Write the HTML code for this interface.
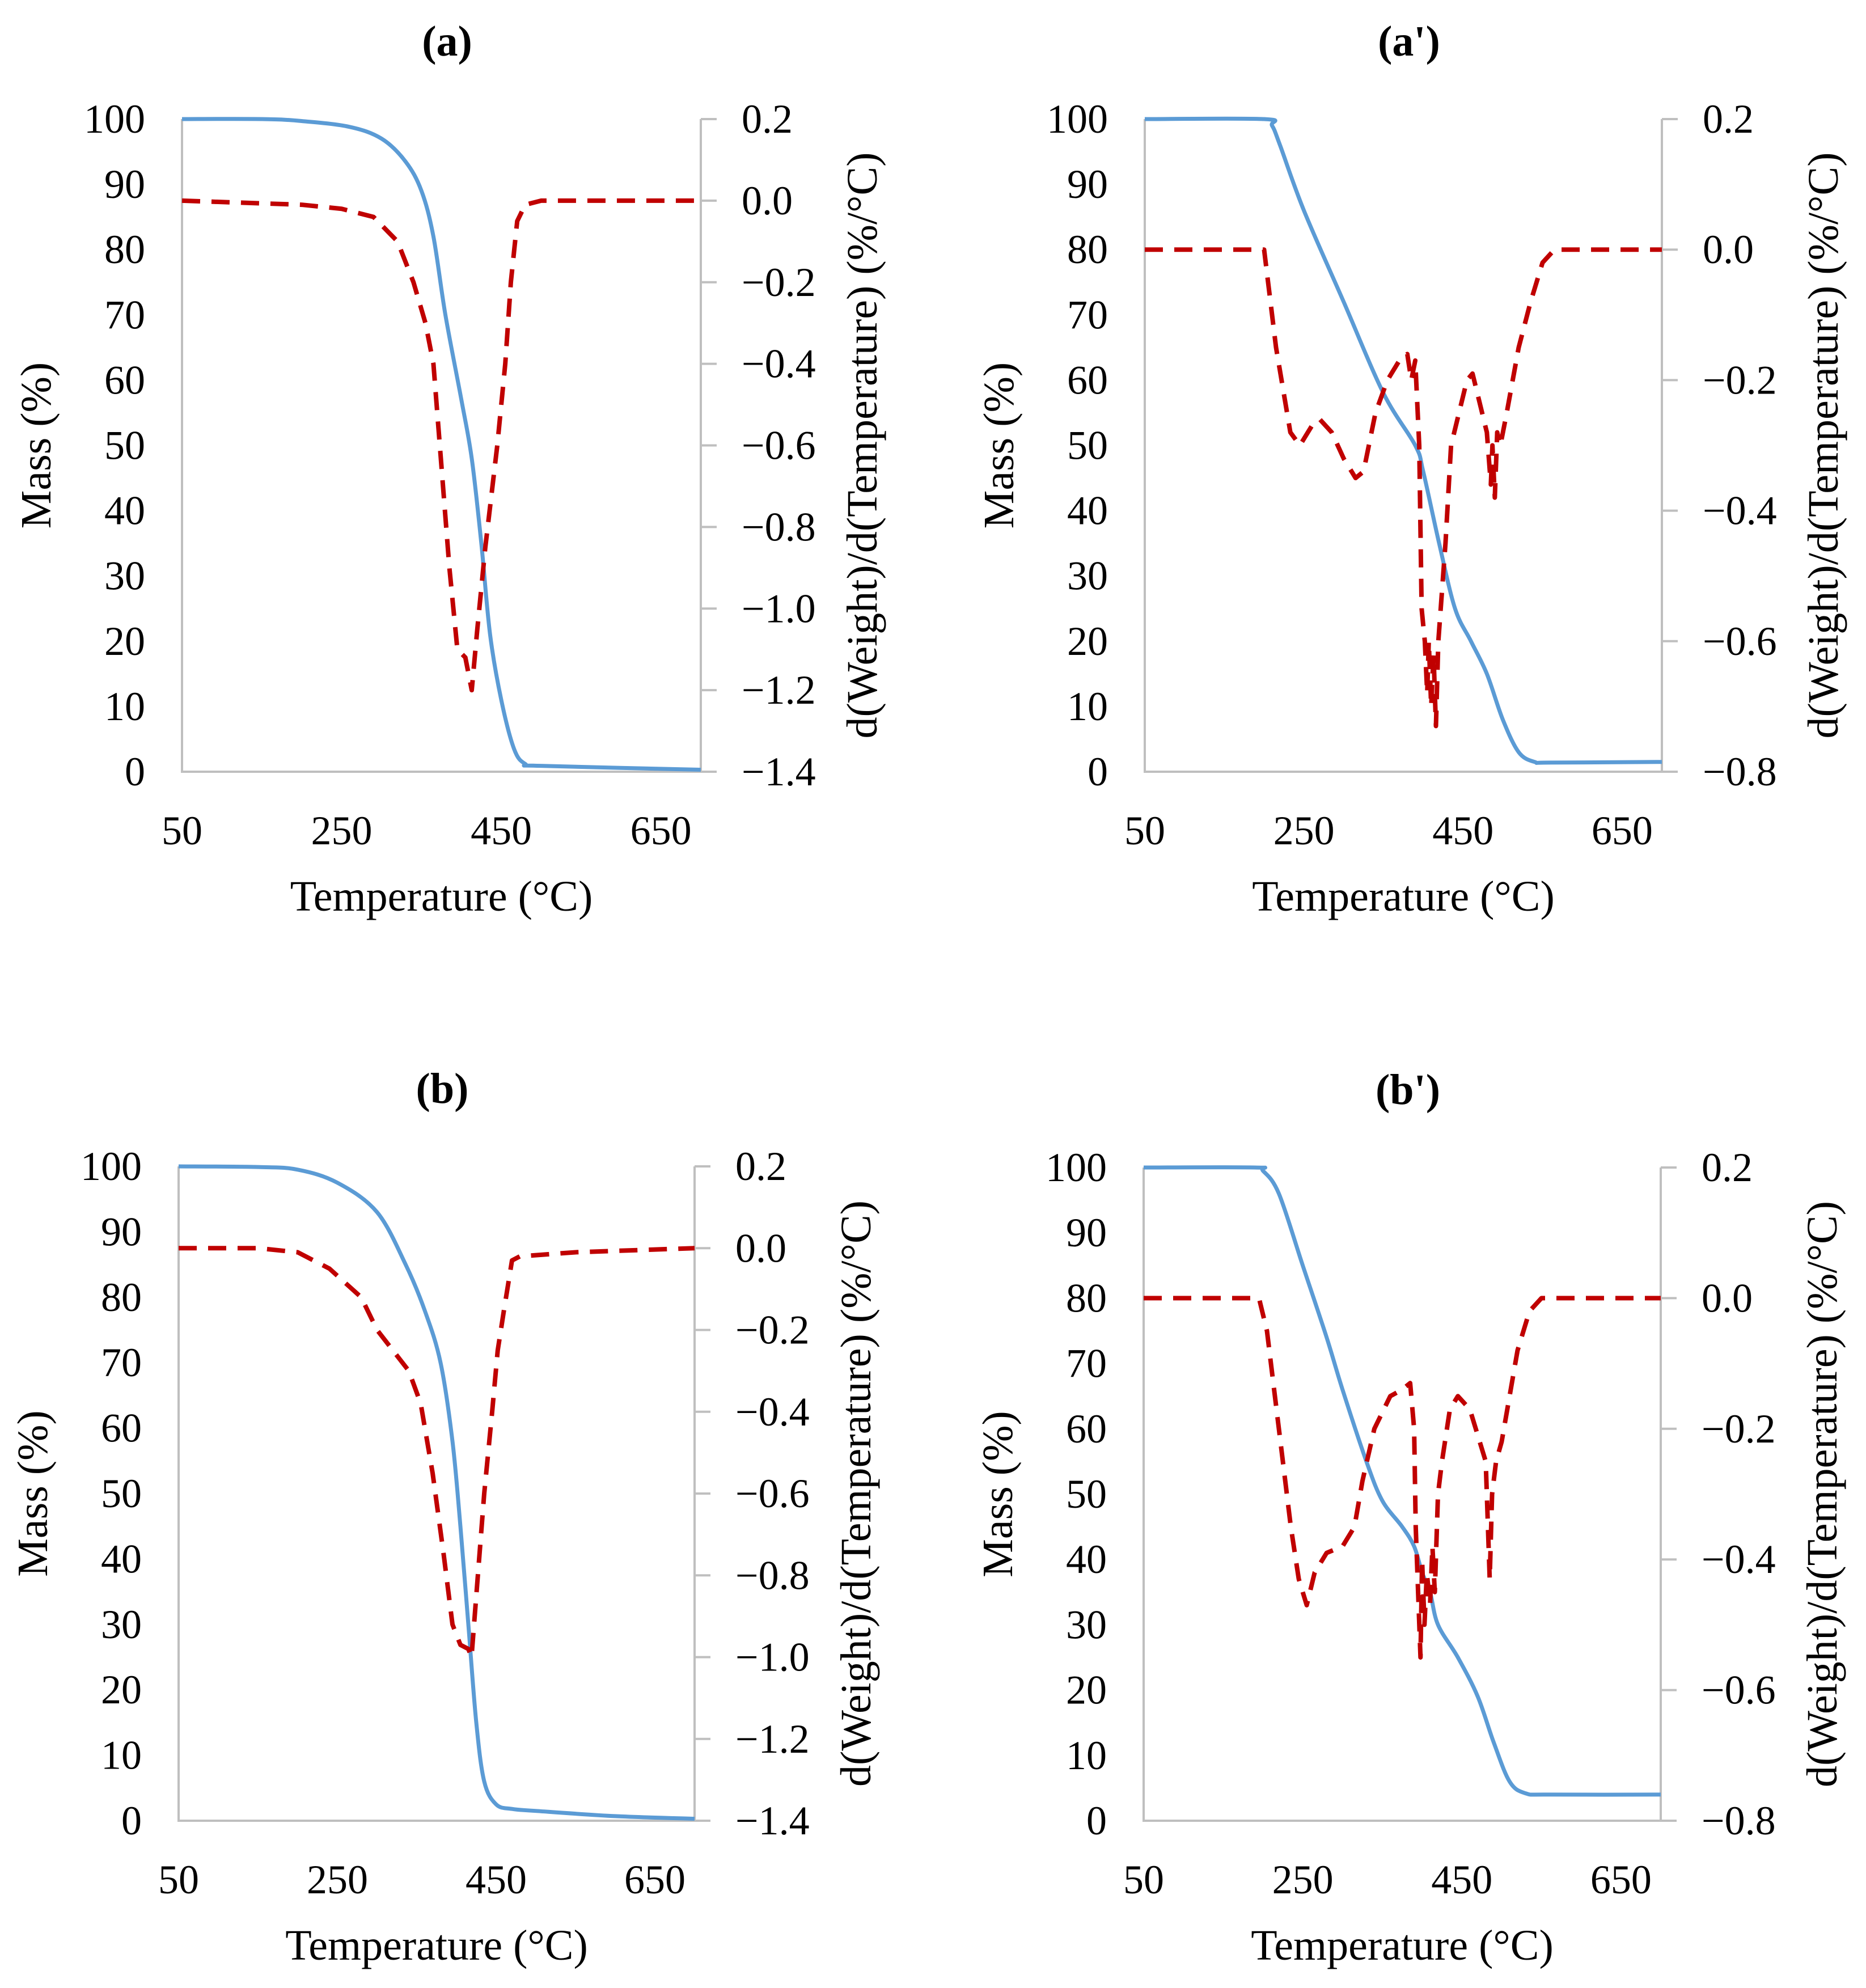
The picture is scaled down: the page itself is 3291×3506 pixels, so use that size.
<!DOCTYPE html>
<html><head><meta charset="utf-8"><style>
html,body{margin:0;padding:0;background:#fff;}
svg{display:block;font-family:"Liberation Serif","DejaVu Serif",serif;}
</style></head><body>
<svg id="fig" width="3291" height="3506" viewBox="0 0 3291 3506" xmlns="http://www.w3.org/2000/svg"></svg>
<script>
// ---- data ----
const massTicks=[0,10,20,30,40,50,60,70,80,90,100];
const tempTicks=[50,250,450,650];
const derivTicksA=[0.2,0,-0.2,-0.4,-0.6,-0.8,-1.0,-1.2,-1.4];
const derivTicksA2=[0.2,0,-0.2,-0.4,-0.6,-0.8];

const aMassT=[50,150,200,260,300,330,350,365,380,400,413,425,436,450,466,480,500,700];
const aMassV=[100,100,99.7,98.8,97,93.5,89,82,70,57,48,35,21,11,3.5,1.2,0.9,0.3];
const aDerT=[50,200,250,290,320,340,355,365,375,385,395,405,413,420,430,445,455,462,470,480,500,700];
const aDerV=[0,-0.01,-0.02,-0.04,-0.1,-0.2,-0.3,-0.4,-0.65,-0.9,-1.1,-1.12,-1.2,-1.05,-0.85,-0.6,-0.4,-0.2,-0.05,-0.01,0,0];

const a2MassT=[50,200,210,220,250,300,350,390,400,420,440,460,480,500,520,540,560,700];
const a2MassV=[100,100,99,96,86,72,58,50,46,35,25,20,15,8,3,1.5,1.4,1.5];
const a2DerT=[50,200,215,233,245,260,270,285,300,315,325,340,355,370,380,385,390,395,398,402,405,407,410,413,416,419,422,428,435,445,455,462,470,480,485,487,490,493,497,505,520,535,550,565,700];
const a2DerV=[0,0,-0.15,-0.28,-0.3,-0.27,-0.26,-0.28,-0.32,-0.35,-0.34,-0.25,-0.2,-0.17,-0.16,-0.2,-0.17,-0.3,-0.55,-0.6,-0.68,-0.6,-0.7,-0.62,-0.73,-0.6,-0.55,-0.45,-0.3,-0.25,-0.2,-0.19,-0.23,-0.28,-0.36,-0.3,-0.38,-0.28,-0.3,-0.25,-0.15,-0.08,-0.02,0,0];

const bMassT=[50,150,200,250,300,336,360,380,395,405,415,425,435,450,470,500,600,700];
const bMassV=[100,99.9,99.5,97.5,93,85,78,70,58,45,30,15,6,2.5,1.8,1.5,0.7,0.3];
const bDerT=[50,150,200,240,280,300,340,355,370,384,395,405,415,419,425,435,445,452,460,470,480,550,700];
const bDerV=[0,0,-0.01,-0.05,-0.12,-0.2,-0.3,-0.38,-0.55,-0.75,-0.92,-0.97,-0.98,-1.0,-0.85,-0.6,-0.4,-0.25,-0.15,-0.03,-0.02,-0.01,0];

const b2MassT=[50,190,200,220,250,280,300,330,350,375,390,400,410,420,445,470,490,510,530,560,700];
const b2MassV=[100,100,99.5,96,85,74,66,55,49,45,42,38,35,30,25,19,12,6,4.2,4,4];
const b2DerT=[50,195,205,220,235,245,255,265,280,300,315,325,340,360,375,385,390,392,395,398,400,403,406,410,413,416,420,425,435,445,460,475,480,485,488,493,500,510,520,535,550,700];
const b2DerV=[0,0,-0.05,-0.2,-0.35,-0.43,-0.47,-0.42,-0.39,-0.38,-0.35,-0.28,-0.2,-0.15,-0.14,-0.13,-0.2,-0.35,-0.45,-0.55,-0.4,-0.5,-0.42,-0.47,-0.38,-0.45,-0.3,-0.25,-0.17,-0.15,-0.17,-0.23,-0.25,-0.43,-0.3,-0.25,-0.22,-0.15,-0.08,-0.02,0,0];

const NS='http://www.w3.org/2000/svg';
const svg=document.getElementById('fig');
function mk(tag,parent){const e=document.createElementNS(NS,tag);parent.appendChild(e);return e;}
function txt(parent,x,y,s,size,anchor,weight,rot){
  const t=mk('text',parent);t.setAttribute('x',x);t.setAttribute('y',y);
  t.setAttribute('font-size',size);t.setAttribute('text-anchor',anchor);t.setAttribute('fill','#000');
  if(weight)t.setAttribute('font-weight',weight);
  if(rot)t.setAttribute('transform','rotate(-90 '+x+' '+y+')');
  t.textContent=s;return t;
}
function smoothPath(pts){
  let d='M'+pts[0][0]+' '+pts[0][1];
  for(let i=0;i<pts.length-1;i++){
    const p0=pts[i-1]||pts[i],p1=pts[i],p2=pts[i+1],p3=pts[i+2]||p2;
    const c1=[p1[0]+(p2[0]-p0[0])/6,p1[1]+(p2[1]-p0[1])/6];
    const c2=[p2[0]-(p3[0]-p1[0])/6,p2[1]-(p3[1]-p1[1])/6];
    d+=' C'+c1[0]+' '+c1[1]+' '+c2[0]+' '+c2[1]+' '+p2[0]+' '+p2[1];
  }
  return d;
}
function panel(id,title,L,R,T,B,dMin,dMax,dTicks,mT,mV,dT,dV){
  const g=mk('g',svg);
  
  
  const xs=v=>L+(v-50)/(700-50)*(R-L);
  const ym=v=>B-v/100*(B-T);
  const yd=v=>B-(v-dMin)/(dMax-dMin)*(B-T);
  const cx=(L+R)/2;
  const tt=txt(g,cx+10,T-112,title,76,'middle','bold');
  
  
  const ax=mk('path',g);
  ax.setAttribute('d','M'+L+' '+T+' V'+B+' H'+R+' V'+T);
  ax.setAttribute('fill','none');ax.setAttribute('stroke','#bfbfbf');ax.setAttribute('stroke-width',4);
  
  
  massTicks.forEach(v=>{const t=txt(g,L-65,ym(v)+24,String(v),72,'end');
    
    });
  tempTicks.forEach(v=>{const t=txt(g,xs(v),B+128,String(v),72,'middle');
    
    });
  dTicks.forEach(v=>{
    const tk=mk('line',g);tk.setAttribute('x1',R);tk.setAttribute('x2',R+28);
    tk.setAttribute('y1',yd(v));tk.setAttribute('y2',yd(v));tk.setAttribute('stroke','#bfbfbf');tk.setAttribute('stroke-width',4);
    
    
    const s=v===0?'0.0':(v<0?'\u2212':'')+Math.abs(v).toFixed(1);
    const t=txt(g,R+72,yd(v)+24,s,72,'start');
    
    });
  const xt=txt(g,cx,B+245,'Temperature (°C)',76,'middle');
  
  
  const yt=txt(g,L-232,(T+B)/2,'Mass (%)',76,'middle',null,true);
  
  
  const rt=txt(g,R+310,(T+B)/2,'d(Weight)/d(Temperature) (%/°C)',76,'middle',null,true);
  
  
  const m=mk('path',g);
  m.setAttribute('d',smoothPath(mT.map((t,i)=>[xs(t),ym(mV[i])])));
  m.setAttribute('fill','none');m.setAttribute('stroke','#5b9bd5');m.setAttribute('stroke-width',7);m.setAttribute('stroke-linejoin','round');
  
  
  const d=mk('polyline',g);
  d.setAttribute('points',dT.map((t,i)=>xs(t)+','+yd(dV[i])).join(' '));
  d.setAttribute('fill','none');d.setAttribute('stroke','#c00000');d.setAttribute('stroke-width',8);d.setAttribute('stroke-dasharray','32 20');d.setAttribute('stroke-linejoin','round');
  
  
}
panel('a','(a)',321,1236,210,1361,-1.4,0.2,derivTicksA,aMassT,aMassV,aDerT,aDerV);
panel('a-prime',"(a')",2019,2931,210,1361,-0.8,0.2,derivTicksA2,a2MassT,a2MassV,a2DerT,a2DerV);
panel('b','(b)',315,1225,2057,3211,-1.4,0.2,derivTicksA,bMassT,bMassV,bDerT,bDerV);
panel('b-prime',"(b')",2017,2929,2059,3211,-0.8,0.2,derivTicksA2,b2MassT,b2MassV,b2DerT,b2DerV);
</script>
</body></html>
